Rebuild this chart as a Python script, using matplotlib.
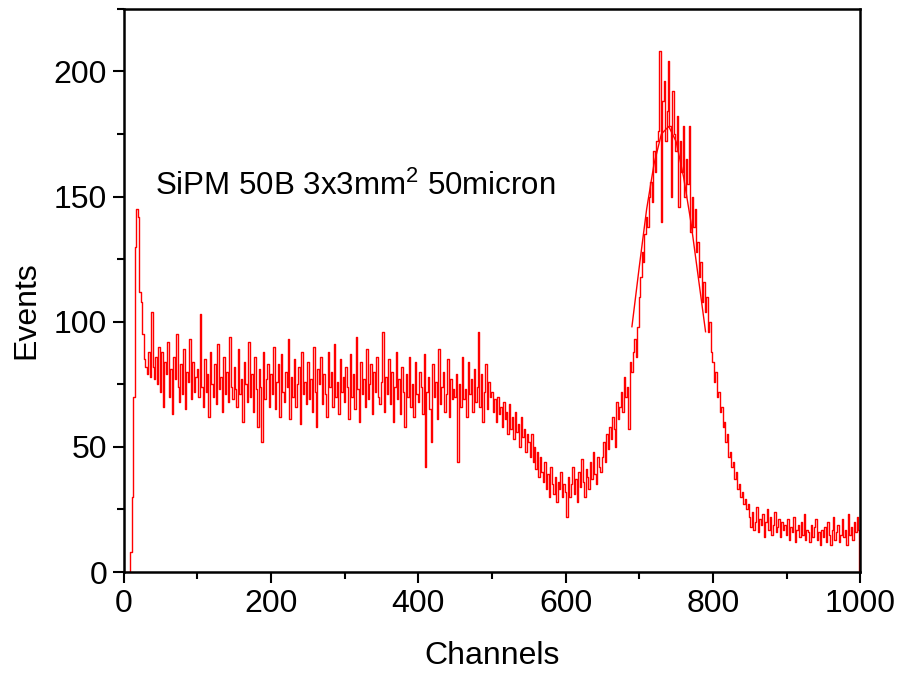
import numpy as np
import matplotlib.pyplot as plt
from matplotlib.ticker import MultipleLocator

# channel spectrum, read every 2 channels from 0 to 1000
channels = np.arange(0, 1001, 2)
events = [
    0, 0, 0, 0, 0, 8, 30, 70, 130, 145, 142, 112, 108, 95, 85, 82, 79, 88, 78, 104, 82, 77, 86, 75, 90,
    72, 88, 66, 84, 79, 92, 70, 81, 63, 86, 77, 95, 74, 68, 83, 71, 89, 65, 80, 76, 93, 69, 84, 72, 78,
    81, 70, 103, 74, 66, 85, 72, 79, 62, 88, 75, 70, 83, 67, 91, 73, 78, 64, 86, 71, 80, 68, 94, 74, 69,
    82, 73, 66, 89, 71, 77, 60, 84, 75, 68, 92, 70, 79, 64, 86, 73, 58, 81, 74, 52, 88, 69, 77, 83, 66,
    79, 71, 90, 65, 76, 83, 62, 87, 72, 68, 80, 74, 93, 61, 78, 70, 85, 66, 75, 82, 59, 88, 71, 76, 67,
    84, 69, 77, 64, 90, 72, 58, 81, 75, 86, 67, 79, 71, 62, 88, 74, 80, 66, 91, 70, 76, 63, 85, 72, 78,
    68, 82, 74, 61, 87, 70, 79, 65, 94, 73, 60, 84, 71, 77, 66, 89, 69, 75, 83, 63, 80, 72, 86, 70, 67,
    76, 96, 64, 78, 71, 85, 67, 80, 60, 74, 88, 69, 77, 63, 82, 72, 58, 79, 70, 86, 66, 75, 62, 84, 71,
    68, 80, 74, 63, 87, 42, 72, 78, 65, 52, 83, 70, 76, 61, 89, 67, 74, 80, 64, 71, 85, 62, 77, 69, 73,
    70, 79, 44, 75, 66, 86, 69, 73, 62, 84, 71, 77, 64, 81, 68, 74, 96, 66, 79, 60, 72, 83, 65, 76, 70,
    72, 64, 69, 60, 70, 63, 66, 58, 68, 61, 64, 55, 67, 57, 62, 53, 64, 56, 59, 50, 62, 54, 57, 48, 55,
    52, 46, 55, 44, 50, 41, 48, 38, 46, 40, 36, 44, 33, 39, 30, 42, 35, 31, 38, 28, 36, 33, 40, 30, 35,
    32, 22, 38, 30, 35, 42, 31, 37, 28, 40, 34, 45, 36, 30, 41, 38, 33, 44, 37, 48, 39, 35, 46, 42, 40,
    46, 52, 44, 55, 49, 58, 53, 62, 57, 50, 68, 61, 66, 72, 64, 78, 70, 74, 57, 84, 80, 88, 93, 86, 98,
    110, 118, 128, 124, 135, 142, 138, 150, 156, 148, 168, 160, 172, 176, 208, 140, 188, 196, 172, 184, 204, 178, 150, 192, 175,
    168, 182, 146, 172, 160, 178, 150, 165, 155, 178, 136, 150, 138, 145, 128, 132, 118, 124, 108, 116, 104, 110, 96, 100, 88,
    84, 76, 80, 70, 72, 64, 66, 58, 60, 52, 55, 46, 48, 42, 44, 37, 40, 33, 35, 30, 32, 27, 29, 25, 27,
    22, 18, 24, 17, 20, 26, 16, 21, 19, 23, 14, 20, 25, 17, 22, 15, 19, 24, 16, 18, 21, 14, 20, 17, 19,
    15, 21, 13, 18, 16, 22, 12, 17, 19, 14, 20, 15, 23, 13, 17, 16, 12, 19, 14, 18, 21, 13, 16, 11, 17,
    14, 18, 12, 20, 15, 11, 17, 22, 13, 16, 19, 12, 15, 21, 14, 17, 11, 23, 15, 18, 13, 20, 16, 22, 17,
    0,
]

# smooth peak fit
fit_ch = [690, 700, 710, 720, 730, 740, 750, 760, 770, 780, 790]
fit_val = [98, 122, 145, 163, 175, 178, 172, 158, 140, 118, 96]

plt.rcParams['font.family'] = ['Liberation Sans', 'DejaVu Sans']
plt.rcParams['mathtext.fontset'] = 'custom'
plt.rcParams['mathtext.rm'] = 'Liberation Sans'
plt.rcParams['mathtext.it'] = 'Liberation Sans'

fig = plt.figure(figsize=(8.97, 6.77), dpi=100)
ax = fig.add_axes([0.138, 0.155, 0.821, 0.832])

ax.plot(channels, events, color='red', linewidth=1.0, drawstyle='steps-mid')
ax.plot(fit_ch, fit_val, color='red', linewidth=1.0)

ax.text(42, 154, 'SiPM 50B 3x3mm$^\\mathrm{2}$ 50micron', fontsize=22.5, va='center')

ax.set_xlim(0, 1000)
ax.set_ylim(0, 225)
ax.xaxis.set_major_locator(MultipleLocator(200))
ax.xaxis.set_minor_locator(MultipleLocator(100))
ax.yaxis.set_major_locator(MultipleLocator(50))
ax.yaxis.set_minor_locator(MultipleLocator(25))
ax.tick_params(which='both', direction='out', width=1.5, labelsize=23, pad=4)
ax.tick_params(which='major', length=8)
ax.tick_params(which='minor', length=5)
for s in ax.spines.values():
    s.set_linewidth(1.8)

ax.set_xlabel('Channels', fontsize=23, labelpad=16)
ax.set_ylabel('Events', fontsize=23)
ax.yaxis.set_label_coords(-0.112, 0.465)

plt.savefig('out.png', dpi=100)
